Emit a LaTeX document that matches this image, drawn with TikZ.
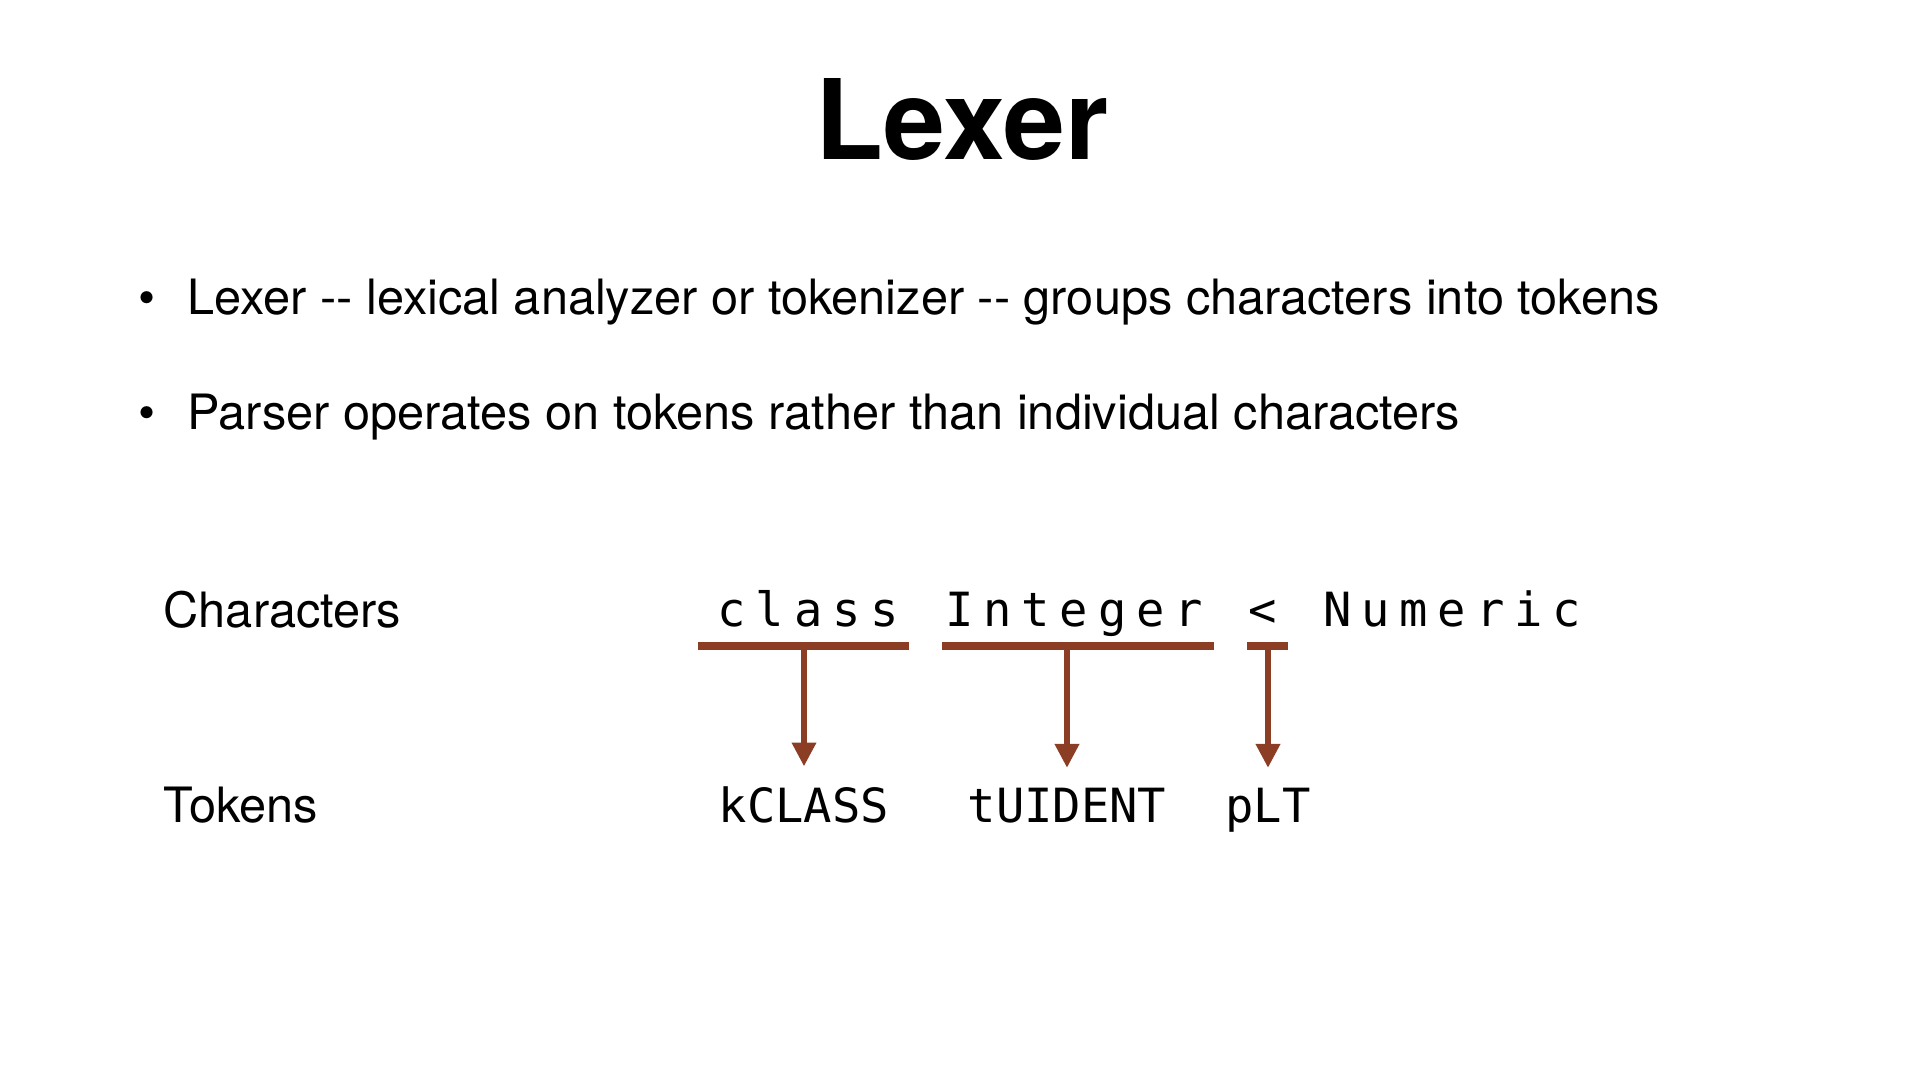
\documentclass[tikz,border=0pt]{standalone}
\usepackage{fontspec}
\setmainfont{TeX Gyre Heros}
\setmonofont{DejaVu Sans Mono}
\newfontfamily\trackedmono{DejaVu Sans Mono}[LetterSpace=21,WordSpace=1.2]
\usetikzlibrary{arrows.meta}
\definecolor{tokbrown}{RGB}{140,62,36}

\begin{document}
\begin{tikzpicture}[x=0.01cm, y=-0.01cm,
  textlbl/.style={anchor=base west, inner sep=0pt, font=\fontsize{13.85}{16}\selectfont},
  mono/.style={inner sep=0pt, font=\fontsize{13.4}{16}\selectfont\ttfamily},
  tokbar/.style={draw=tokbrown, line width=2.3pt},
  tokarrow/.style={draw=tokbrown, line width=1.7pt, -{Triangle[length=6.8pt,width=6.6pt]}, shorten >=5.7pt}]
  \useasboundingbox (0,0) rectangle (1920,1080);
  % heading and bullets
  \node[anchor=base, inner sep=0pt, font=\fontsize{31.6}{36}\selectfont\bfseries] (title) at (962,160) {Lexer};
  \node[anchor=base, inner sep=0pt, font=\fontsize{13.85}{16}\selectfont] (dotA) at (147,315) {\textbullet};
  \node[textlbl] (lineA) at (187,315) {Lexer -{}- lexical analyzer or tokenizer -{}- groups characters into tokens};
  \node[anchor=base, inner sep=0pt, font=\fontsize{13.85}{16}\selectfont] (dotB) at (147,430) {\textbullet};
  \node[textlbl] (lineB) at (187,430) {Parser operates on tokens rather than individual characters};
  % rows
  \node[textlbl] (charsLbl) at (163,628) {Characters};
  \node[textlbl] (tokensLbl) at (163,823) {Tokens};
  \node[mono, anchor=base west, font=\fontsize{13.4}{16}\selectfont\trackedmono] (chars) at (717,627) {class Integer < Numeric};
  \node[mono, anchor=base] (kclass) at (804,823) {kCLASS};
  \node[mono, anchor=base] (tuident) at (1067,823) {tUIDENT};
  \node[mono, anchor=base] (plt) at (1268,823) {pLT};
  % groups
  \coordinate (barA) at (803,646);
  \coordinate (barB) at (1068,646);
  \coordinate (barC) at (1267,646);
  \draw[tokbar] (698,646) -- (909,646);
  \draw[tokbar] (942,646) -- (1214,646);
  \draw[tokbar] (1247,646) -- (1288,646);
  \draw[tokarrow] (kclass.north |- barA) -- (kclass.north);
  \draw[tokarrow] (tuident.north |- barB) -- (tuident.north);
  \draw[tokarrow] (plt.north |- barC) -- (plt.north);
\end{tikzpicture}
\end{document}
